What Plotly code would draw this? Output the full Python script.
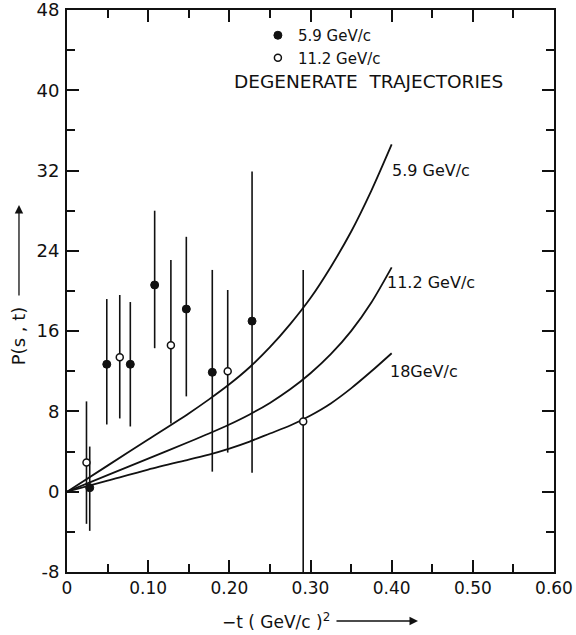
import plotly.graph_objects as go

# Measured points, 5.9 GeV/c (filled) and 11.2 GeV/c (open): -t, P(s,t), error limits
t_59 = [0.028, 0.049, 0.078, 0.108, 0.147, 0.179, 0.228]
p_59 = [0.4, 12.7, 12.7, 20.6, 18.2, 11.9, 17.0]
p_59_hi = [4.5, 19.2, 18.9, 28.0, 25.4, 22.1, 31.9]
p_59_lo = [-3.9, 6.7, 6.5, 14.3, 9.5, 2.0, 1.9]

t_112 = [0.024, 0.065, 0.128, 0.198, 0.291]
p_112 = [2.9, 13.4, 14.6, 12.0, 7.0]
p_112_hi = [9.0, 19.6, 23.1, 20.1, 22.1]
p_112_lo = [-3.2, 7.3, 6.8, 3.9, -8.0]

# Degenerate-trajectory predictions
curve_t = [0.0, 0.05, 0.10, 0.15, 0.175, 0.20, 0.225, 0.25, 0.275,
           0.30, 0.325, 0.35, 0.375, 0.40]
curve_59 = [0.0, 2.6, 5.2, 7.8, 9.2, 10.7, 12.4, 14.4, 16.7,
            19.3, 22.4, 25.9, 30.0, 34.6]
curve_112 = [0.0, 1.65, 3.3, 4.95, 5.8, 6.7, 7.7, 8.85, 10.2,
             11.8, 13.7, 16.0, 18.85, 22.35]
curve_18 = [0.0, 1.1, 2.2, 3.2, 3.7, 4.3, 5.0, 5.8, 6.6,
            7.6, 8.8, 10.3, 12.0, 13.8]
curve_names = ["5.9 GeV/c", "11.2 GeV/c", "18GeV/c"]
curve_label_pos = [(0.398, 32.0), (0.392, 20.8), (0.396, 12.0)]

x_ticks = [0, 0.1, 0.2, 0.3, 0.4, 0.5, 0.6]
x_ticktext = ["0", "0.10", "0.20", "0.30", "0.40", "0.50", "0.60"]
y_ticks = [-8, 0, 8, 16, 24, 32, 40, 48]
y_ticktext = ["-8", "0", "8", "16", "24", "32", "40", "48"]

FONT = "DejaVu Sans"
INK = "#111111"

fig = go.Figure()

for ys in (curve_59, curve_112, curve_18):
    fig.add_trace(go.Scatter(
        x=curve_t, y=ys, mode="lines",
        line=dict(color=INK, width=1.8, shape="spline", smoothing=0.8),
        showlegend=False, hoverinfo="skip"))


def err(vals, hi, lo):
    return ([h - v for v, h in zip(vals, hi)], [v - l for v, l in zip(vals, lo)])


up59, dn59 = err(p_59, p_59_hi, p_59_lo)
up112, dn112 = err(p_112, p_112_hi, p_112_lo)

fig.add_trace(go.Scatter(
    x=t_59, y=p_59, mode="markers", name="5.9 GeV/c",
    marker=dict(symbol="circle", size=8, color=INK, line=dict(color=INK, width=1)),
    error_y=dict(type="data", symmetric=False, array=up59, arrayminus=dn59,
                 width=0, thickness=1.6, color=INK)))

fig.add_trace(go.Scatter(
    x=t_112, y=p_112, mode="markers", name="11.2 GeV/c",
    marker=dict(symbol="circle", size=7, color="white", line=dict(color=INK, width=1.5)),
    error_y=dict(type="data", symmetric=False, array=up112, arrayminus=dn112,
                 width=0, thickness=1.6, color=INK)))

annotations = []
for name, (lx, ly) in zip(curve_names, curve_label_pos):
    annotations.append(dict(x=lx, y=ly, xref="x", yref="y", text=name,
                            showarrow=False, xanchor="left", yanchor="middle",
                            font=dict(family=FONT, size=16, color=INK)))

annotations.append(dict(x=0.338, y=0.872, xref="paper", yref="paper",
                        text="DEGENERATE  TRAJECTORIES", showarrow=False,
                        xanchor="left", yanchor="middle",
                        font=dict(family=FONT, size=18.5, color=INK)))

# y-axis title and its arrow
annotations.append(dict(x=-0.098, y=0.42, xref="paper", yref="paper",
                        text="P(s , t)", textangle=-90, showarrow=False,
                        xanchor="center", yanchor="middle",
                        font=dict(family=FONT, size=18, color=INK)))
annotations.append(dict(x=-0.0986, y=0.653, xref="paper", yref="paper", text="",
                        showarrow=True, arrowhead=2, arrowsize=1.3, arrowwidth=1.3,
                        arrowcolor=INK, ax=0, ay=92))

# x-axis title and its arrow
annotations.append(dict(x=0.544, y=-0.0872, xref="paper", yref="paper",
                        text="\u2212t ( GeV/c )<sup>2</sup>", showarrow=False,
                        xanchor="right", yanchor="middle",
                        font=dict(family=FONT, size=17, color=INK)))
annotations.append(dict(x=0.7207, y=-0.0872, xref="paper", yref="paper", text="",
                        showarrow=True, arrowhead=2, arrowsize=1.3, arrowwidth=1.3,
                        arrowcolor=INK, ax=-83, ay=0))

fig.update_layout(
    width=576, height=635,
    margin=dict(l=67, r=22, t=10, b=63, autoexpand=False),
    paper_bgcolor="white", plot_bgcolor="white",
    font=dict(family=FONT, size=16, color=INK),
    showlegend=True,
    legend=dict(x=0.392, y=0.984, xanchor="left", yanchor="top",
                bgcolor="rgba(0,0,0,0)", borderwidth=0,
                font=dict(family=FONT, size=15, color=INK)),
    annotations=annotations,
)

fig.update_xaxes(
    range=[0, 0.6], showgrid=False, zeroline=False, automargin=False,
    showline=True, linecolor=INK, linewidth=2, mirror="ticks",
    tickmode="array", tickvals=x_ticks, ticktext=x_ticktext,
    ticks="inside", ticklen=12, tickwidth=1.8, tickcolor=INK,
    minor=dict(dtick=0.05, ticks="inside", ticklen=8, tickwidth=1.8, tickcolor=INK),
    tickfont=dict(family=FONT, size=17, color=INK),
    ticklabelstandoff=0, ticklabeloverflow="allow")

fig.update_yaxes(
    range=[-8, 48], showgrid=False, zeroline=False, automargin=False,
    showline=True, linecolor=INK, linewidth=2, mirror="ticks",
    tickmode="array", tickvals=y_ticks, ticktext=y_ticktext,
    ticks="inside", ticklen=12, tickwidth=1.8, tickcolor=INK,
    minor=dict(dtick=4, ticks="inside", ticklen=8, tickwidth=1.8, tickcolor=INK),
    tickfont=dict(family=FONT, size=18, color=INK),
    ticklabelstandoff=2, ticklabeloverflow="allow")

fig.write_html("out.html")
